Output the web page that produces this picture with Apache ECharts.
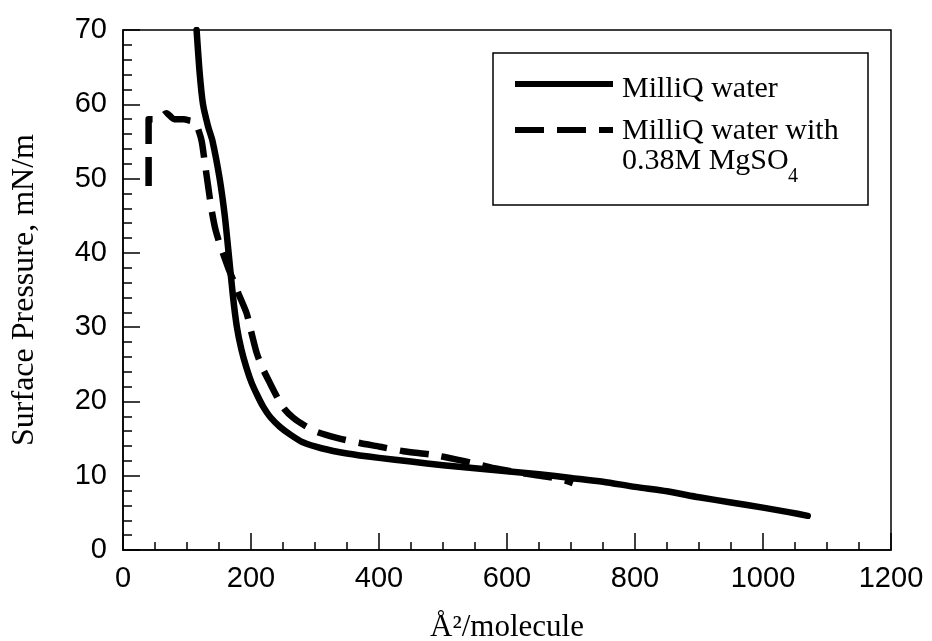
<!DOCTYPE html>
<html>
<head>
<meta charset="utf-8">
<script src="https://cdn.jsdelivr.net/npm/echarts@6/dist/echarts.min.js"></script>
<style>html,body{margin:0;padding:0;background:#fff;}#c{width:932px;height:641px;}</style>
</head>
<body>
<div id="c"></div>
<script>
// Area (Å²/molecule) and surface pressure (mN/m)
var milliqArea = [115,120,125,133,140,151,159,165,172,178,185,193,201,210,219,230,245,262,281,310,350,400,450,500,550,600,650,700,750,800,850,900,950,1000,1040,1070];
var milliqPressure = [70,64,60,57,55,50,45,40,34,30,27,24.5,22.5,20.8,19.3,17.9,16.6,15.5,14.5,13.7,13.0,12.4,11.9,11.4,11.0,10.6,10.2,9.7,9.2,8.5,7.9,7.1,6.4,5.7,5.1,4.6];

var mgso4Area = [40,40,40,45,55,68,80,95,105,112,118,123,128,133,138,144,150,156,167,175,180,193,200,209,218,230,242,252,266,285,303,334,370,402,438,485,520,547,580,620,660,690,703];
var mgso4Pressure = [49,52,58,58,58,58.8,58,58,57.8,57.7,56.5,55,52,49,46,43.3,41.5,40,37.4,35.8,34.6,31.9,29.5,26.5,24.5,22.4,20.4,19,17.8,16.7,15.9,15.1,14.4,13.9,13.3,12.8,12.2,11.7,11.0,10.4,9.9,9.4,9.0];

var seriesNames = ['MilliQ water', 'MilliQ water with', '0.38M MgSO', '4'];
var xTicks = {min: 0, max: 1200, interval: 200};
var yTicks = {min: 0, max: 70, interval: 10};

function pairs(xs, ys) { return xs.map(function (x, i) { return [x, ys[i]]; }); }

var serif = '"Liberation Serif", "Times New Roman", serif';
var sans = '"Liberation Sans", Arial, sans-serif';
var dash = [29, 13];

var chart = echarts.init(document.getElementById('c'));
chart.setOption({
  backgroundColor: '#fff',
  animation: false,
  grid: {left: 123, right: 41, top: 30, bottom: 91, containLabel: false, outerBoundsMode: 'none',
         show: true, borderColor: '#000', borderWidth: 1.5, backgroundColor: 'transparent'},
  xAxis: {
    type: 'value', min: xTicks.min, max: xTicks.max, interval: xTicks.interval,
    name: 'Å²/molecule', nameLocation: 'middle', nameGap: 62,
    nameTextStyle: {fontFamily: serif, fontSize: 31, color: '#000'},
    axisLine: {show: true, lineStyle: {color: '#000', width: 1.5}},
    axisTick: {show: true, length: -17, lineStyle: {color: '#000', width: 1.5}},
    minorTick: {show: true, splitNumber: 4, length: -8, lineStyle: {color: '#000', width: 1.5}},
    splitLine: {show: false},
    axisLabel: {fontFamily: sans, fontSize: 29, color: '#000', margin: 14, formatter: function (v) { return String(v); }}
  },
  yAxis: {
    type: 'value', min: yTicks.min, max: yTicks.max, interval: yTicks.interval,
    name: 'Surface Pressure, mN/m', nameLocation: 'middle', nameGap: 82, nameRotate: 90,
    nameTextStyle: {fontFamily: serif, fontSize: 32, color: '#000'},
    axisLine: {show: true, lineStyle: {color: '#000', width: 1.5}},
    axisTick: {show: true, length: -17, lineStyle: {color: '#000', width: 1.5}},
    minorTick: {show: true, splitNumber: 5, length: -9, lineStyle: {color: '#000', width: 1.5}},
    splitLine: {show: false},
    axisLabel: {fontFamily: sans, fontSize: 29, color: '#000', margin: 16}
  },
  series: [
    {type: 'line', name: seriesNames[0], data: pairs(milliqArea, milliqPressure), symbol: 'none', smooth: 0.25,
     lineStyle: {color: '#000', width: 6.5, cap: 'round', join: 'round'}},
    {type: 'line', name: seriesNames[1], data: pairs(mgso4Area, mgso4Pressure), symbol: 'none', smooth: 0.25,
     lineStyle: {color: '#000', width: 6.5, type: dash, cap: 'butt', join: 'round'}}
  ],
  graphic: [
    {type: 'rect', shape: {x: 493, y: 53, width: 375, height: 152}, style: {fill: '#fff', stroke: '#000', lineWidth: 1.5}, z: 100},
    {type: 'line', shape: {x1: 515, y1: 84, x2: 613, y2: 84}, style: {stroke: '#000', lineWidth: 6}, z: 101},
    {type: 'line', shape: {x1: 515, y1: 130, x2: 613, y2: 130}, style: {stroke: '#000', lineWidth: 6, lineDash: dash}, z: 101},
    {type: 'text', x: 622, y: 89, style: {text: seriesNames[0], font: '30px ' + serif, fill: '#000', verticalAlign: 'middle', align: 'left'}, z: 101},
    {type: 'text', x: 622, y: 131, style: {text: seriesNames[1], font: '30px ' + serif, fill: '#000', verticalAlign: 'middle', align: 'left'}, z: 101},
    {type: 'text', x: 622, y: 161, style: {text: seriesNames[2], font: '30px ' + serif, fill: '#000', verticalAlign: 'middle', align: 'left'}, z: 101},
    {type: 'text', x: 788, y: 177, style: {text: seriesNames[3], font: '20px ' + serif, fill: '#000', verticalAlign: 'middle', align: 'left'}, z: 101}
  ]
});
</script>
</body>
</html>
